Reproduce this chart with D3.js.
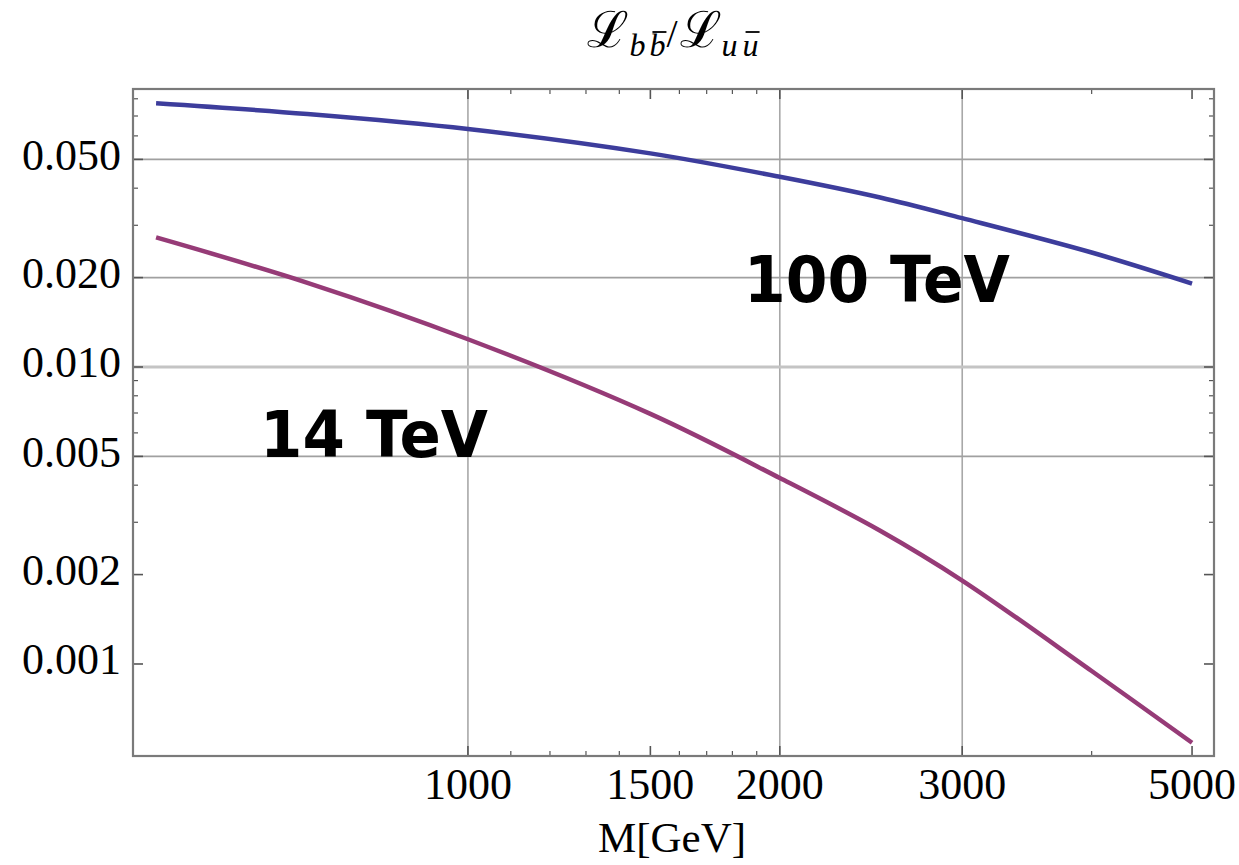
<!DOCTYPE html>
<html>
<head>
<meta charset="utf-8">
<script src="https://cdn.jsdelivr.net/npm/d3@7"></script>
<style>
  html, body { margin: 0; padding: 0; background: #fff; }
  svg { display: block; }
</style>
</head>
<body>
<svg id="chart" width="1239" height="865"></svg>
<script>
// ---- data ----
const masses = [500, 700, 1000, 1500, 2000, 2500, 3000, 4000, 5000];
const ratio100TeV = [0.0773, 0.0711, 0.0633, 0.0524, 0.0437, 0.0372, 0.0317, 0.0243, 0.0191];
const ratio14TeV  = [0.0273, 0.0192, 0.0124, 0.00695, 0.00423, 0.00281, 0.00191, 0.000947, 0.000543];

const xMajorTicks = [1000, 1500, 2000, 3000, 5000];
const xMinorTicks = [1100, 1200, 1300, 1400, 1600, 1700, 1800, 1900, 4000];
const xGrid = [1000, 2000, 3000];
const yMajorTicks = [0.001, 0.002, 0.005, 0.01, 0.02, 0.05];
const yMinorTicks = [0.003, 0.004, 0.006, 0.007, 0.008, 0.009, 0.03, 0.04, 0.06, 0.07, 0.08];
const yGrid = [0.005, 0.02, 0.05];
const yGridStrong = [0.01];
const xDomain = [475, 5250];
const yDomain = [0.00049, 0.0863];

const seriesNames = ["100 TeV", "14 TeV"];
const seriesColors = ["#3d3d9c", "#963b77"];

// ---- layout ----
const L = 133, R = 1214, T = 89, B = 756;
const svg = d3.select("#chart");
svg.append("rect").attr("width", 1239).attr("height", 865).attr("fill", "#fff");

const x = d3.scaleLog().domain(xDomain).range([L, R]);
const y = d3.scaleLog().domain(yDomain).range([B, T]);

// grid
const g = svg.append("g");
g.selectAll("line.gx").data(xGrid).join("line")
  .attr("x1", d => x(d)).attr("x2", d => x(d)).attr("y1", T).attr("y2", B)
  .attr("stroke", "#a8a8a8").attr("stroke-width", 1.6);
g.selectAll("line.gy").data(yGrid).join("line")
  .attr("y1", d => y(d)).attr("y2", d => y(d)).attr("x1", L).attr("x2", R)
  .attr("stroke", "#a0a0a0").attr("stroke-width", 1.6);
g.selectAll("line.gys").data(yGridStrong).join("line")
  .attr("y1", d => y(d)).attr("y2", d => y(d)).attr("x1", L).attr("x2", R)
  .attr("stroke", "#c4c4c4").attr("stroke-width", 3);

// ticks (inward, on all four sides)
const tk = svg.append("g").attr("stroke", "#555");
function xticks(vals, len, w) {
  tk.append("g").selectAll("line").data(vals).join("line")
    .attr("x1", d => x(d)).attr("x2", d => x(d)).attr("y1", B).attr("y2", B - len).attr("stroke-width", w);
  tk.append("g").selectAll("line").data(vals).join("line")
    .attr("x1", d => x(d)).attr("x2", d => x(d)).attr("y1", T).attr("y2", T + len).attr("stroke-width", w);
}
function yticks(vals, len, w) {
  tk.append("g").selectAll("line").data(vals).join("line")
    .attr("y1", d => y(d)).attr("y2", d => y(d)).attr("x1", L).attr("x2", L + len).attr("stroke-width", w);
  tk.append("g").selectAll("line").data(vals).join("line")
    .attr("y1", d => y(d)).attr("y2", d => y(d)).attr("x1", R).attr("x2", R - len).attr("stroke-width", w);
}
xticks(xMajorTicks, 10, 1.6);
xticks(xMinorTicks, 5, 1.2);
yticks(yMajorTicks, 10, 1.6);
yticks(yMinorTicks, 5, 1.2);

// frame
svg.append("rect").attr("x", L).attr("y", T).attr("width", R - L).attr("height", B - T)
  .attr("fill", "none").attr("stroke", "#7a7a7a").attr("stroke-width", 2.2);

// tick labels
const serif = "'Liberation Serif', 'Times New Roman', serif";
svg.append("g").selectAll("text").data(yMajorTicks).join("text")
  .attr("x", 121).attr("y", d => y(d) + 10.5)
  .attr("text-anchor", "end").attr("font-family", serif).attr("font-size", 44).attr("fill", "#000")
  .text(d => d3.format(".3f")(d));
svg.append("g").selectAll("text").data(xMajorTicks).join("text")
  .attr("x", d => x(d)).attr("y", B + 43)
  .attr("text-anchor", "middle").attr("font-family", serif).attr("font-size", 44).attr("fill", "#000")
  .text(d => d3.format("d")(d));

// axis title
svg.append("text").attr("x", 672).attr("y", 852).attr("text-anchor", "middle")
  .attr("font-family", serif).attr("font-size", 43).attr("fill", "#000").text("M[GeV]");

// curves
const series = [ratio100TeV, ratio14TeV];
const line = d3.line().x(d => x(d[0])).y(d => y(d[1])).curve(d3.curveCatmullRom.alpha(0.5));
svg.append("g").selectAll("path").data(series).join("path")
  .attr("d", s => line(masses.map((m, i) => [m, s[i]])))
  .attr("fill", "none").attr("stroke", (s, i) => seriesColors[i]).attr("stroke-width", 4.5)
  .attr("stroke-linecap", "butt");

// in-plot labels
const sans = "'DejaVu Sans', Verdana, sans-serif";
const labelPos = [{ x: 744, y: 302, len: 266 }, { x: 260, y: 457, len: 228 }];
svg.append("g").selectAll("text").data(seriesNames).join("text")
  .attr("x", (d, i) => labelPos[i].x).attr("y", (d, i) => labelPos[i].y)
  .attr("font-family", sans).attr("font-weight", "bold").attr("font-size", 64).attr("fill", "#000")
  .attr("textLength", (d, i) => labelPos[i].len).attr("lengthAdjust", "spacingAndGlyphs")
  .text(d => d);

// title  L_{b bbar} / L_{u ubar}
const title = svg.append("text").attr("x", 673).attr("y", 47).attr("text-anchor", "middle")
  .attr("font-family", serif).attr("fill", "#000");
const parts = [
  { t: "\u2112", size: 50, italic: false, dy: 0, dx: 0, fam: "'DejaVu Serif', serif" },
  { t: "b", size: 32, italic: true, dy: 9, dx: 0 },
  { t: "b", size: 32, italic: true, dy: 0, dx: 4, bar: true },
  { t: "/", size: 40, italic: false, dy: -9, dx: 1 },
  { t: "\u2112", size: 50, italic: false, dy: 0, dx: 2, fam: "'DejaVu Serif', serif" },
  { t: "u", size: 32, italic: true, dy: 9, dx: 0 },
  { t: "u", size: 32, italic: true, dy: 0, dx: 5, bar: true }
];
parts.forEach(p => {
  const ts = title.append("tspan").text(p.t).attr("font-size", p.size)
    .attr("dy", p.dy).attr("dx", p.dx);
  if (p.italic) ts.attr("font-style", "italic");
  if (p.fam) ts.attr("font-family", p.fam);
});
const tnode = title.node();
parts.forEach((p, i) => {
  if (!p.bar) return;
  const ext = tnode.getExtentOfChar(i);
  svg.append("line")
    .attr("x1", ext.x + 3).attr("x2", ext.x + ext.width + 1)
    .attr("y1", 32).attr("y2", 32)
    .attr("stroke", "#000").attr("stroke-width", 1.8);
});
</script>
</body>
</html>
